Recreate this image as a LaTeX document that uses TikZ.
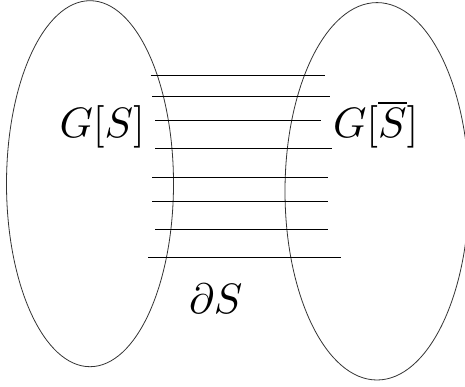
\documentclass[tikz,border=0pt]{standalone}
\usetikzlibrary{shapes.geometric}
\begin{document}
\begin{tikzpicture}[x=1pt,y=-1pt,
  setbox/.style={draw=black!80, line width=0.8pt, ellipse, inner sep=0pt, outer sep=0pt},
  edgeline/.style={draw=black, line width=0.9pt},
  lbl/.style={inner sep=0pt, outer sep=0pt, scale=4.25}]
\useasboundingbox (0,0) rectangle (465,387);
\clip (0,0) rectangle (465,387);
\node[setbox, minimum width=167pt, minimum height=366pt] (L) at (90,183.7) {};
\node[setbox, minimum width=184pt, minimum height=377.4pt] (R) at (377,191.3) {};
\foreach \i/\y/\xa/\xb in {1/75.7/150.7/325, 2/96.7/152/330, 3/120.7/155/321, 4/148.3/155/332,
  5/177.3/152/328, 6/201/152/328, 7/229/155/328, 8/257.7/148/341}{
  \coordinate (a\i) at (\xa,\y);
  \coordinate (b\i) at (\xb,\y);
  \draw[edgeline] (a\i) -- (b\i);
}
\node[lbl, anchor=base west] (gs) at (59.5,138) {$G[S]$};
\node[lbl, anchor=base west] (gsb) at (333,138) {$G[\overline{S}]$};
\node[lbl, anchor=base west] (ds) at (189,313) {$\partial S$};
\end{tikzpicture}
\end{document}
